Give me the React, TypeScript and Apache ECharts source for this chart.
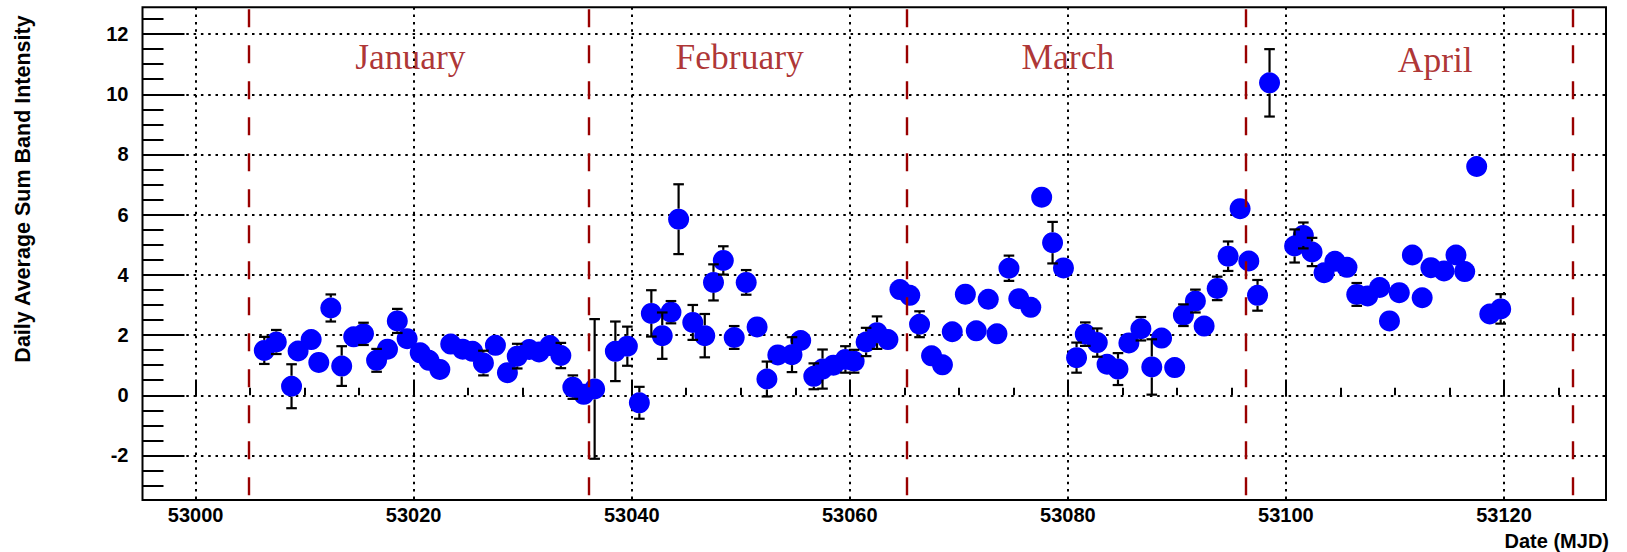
import React, { useEffect, useRef } from "react";
import * as echarts from "echarts";

// ---- data ----
const mjd = [
  53006.3, 53007.4, 53008.8, 53009.4, 53010.6, 53011.3, 53012.4, 53013.4, 53014.5, 53015.4,
  53016.6, 53017.6, 53018.5, 53019.4, 53020.6, 53021.4, 53022.4, 53023.4, 53024.5, 53025.4,
  53026.4, 53027.5, 53028.6, 53029.5, 53030.6, 53031.5, 53032.5, 53033.5, 53034.6, 53035.6,
  53036.6,
  53038.5, 53039.6, 53040.7, 53041.8, 53042.8, 53043.6, 53044.3, 53045.6, 53046.7, 53047.5,
  53048.4, 53049.4, 53050.5, 53051.5, 53052.4, 53053.4, 53054.7, 53055.5, 53056.7, 53057.5,
  53058.5, 53059.6, 53060.4, 53061.5, 53062.5, 53063.5, 53064.6,
  53065.5, 53066.4, 53067.5, 53068.5, 53069.4, 53070.6, 53071.6, 53072.7, 53073.5, 53074.6,
  53075.5, 53076.6, 53077.6, 53078.6, 53079.6, 53080.8, 53081.6, 53082.7, 53083.6, 53084.6,
  53085.6, 53086.7, 53087.7, 53088.6, 53089.8, 53090.6, 53091.7, 53092.5, 53093.7, 53094.7,
  53095.8,
  53096.6, 53097.4, 53098.5, 53100.8, 53101.6, 53102.4, 53103.5, 53104.5, 53105.6, 53106.5,
  53107.5, 53108.6, 53109.5, 53110.4, 53111.6, 53112.5, 53113.3, 53114.5, 53115.6, 53116.4,
  53117.5, 53118.7, 53119.7,
];

const intensity = [
  1.49, 1.77, 0.30, 1.47, 1.85, 1.09, 2.90, 0.97, 1.94, 2.04,
  1.16, 1.53, 2.47, 1.88, 1.41, 1.16, 0.86, 1.70, 1.53, 1.46,
  1.07, 1.66, 0.75, 1.30, 1.52, 1.44, 1.65, 1.32, 0.27, 0.03,
  0.21,
  1.46, 1.63, -0.25, 2.72, 1.98, 2.76, 5.85, 2.42, 1.98, 3.75,
  4.48, 1.92, 3.75, 2.27, 0.54, 1.34, 1.35, 1.82, 0.63, 0.87,
  1.00, 1.19, 1.13, 1.77, 2.08, 1.85, 3.51,
  3.32, 2.36, 1.31, 1.01, 2.11, 3.36, 2.14, 3.19, 2.04, 4.22,
  3.21, 2.92, 6.58, 5.07, 4.23, 1.25, 2.03, 1.75, 1.03, 0.87,
  1.74, 2.21, 0.94, 1.90, 0.92, 2.66, 3.13, 2.30, 3.55, 4.62,
  6.20,
  4.46, 3.32, 10.38, 4.96, 5.31, 4.76, 4.07, 4.45, 4.25, 3.35,
  3.30, 3.58, 2.47, 3.41, 4.66, 3.24, 4.24, 4.13, 4.66, 4.11,
  7.60, 2.70, 2.87,
];

const intensityError = [
  0.45, 0.40, 0.73, 0, 0, 0, 0.45, 0.66, 0, 0.37,
  0.38, 0, 0.40, 0, 0, 0, 0, 0, 0, 0,
  0.41, 0, 0, 0.41, 0, 0, 0, 0.42, 0.39, 0,
  2.32,
  0.99, 0.65, 0.53, 0.77, 0.77, 0.37, 1.16, 0.58, 0.72, 0.60,
  0.47, 0.38, 0.41, 0, 0.58, 0, 0.58, 0, 0.43, 0.65,
  0, 0.44, 0.38, 0.47, 0.54, 0, 0,
  0, 0.43, 0, 0, 0, 0, 0, 0, 0, 0.42,
  0, 0, 0, 0.69, 0, 0.50, 0.39, 0.47, 0, 0.53,
  0.34, 0.39, 0.92, 0, 0, 0.36, 0.38, 0, 0.39, 0.49,
  0,
  0, 0.51, 1.12, 0.55, 0.43, 0.47, 0, 0, 0, 0.38,
  0, 0, 0, 0, 0, 0, 0, 0, 0, 0,
  0, 0, 0.49,
];

const monthStarts = [53004.9, 53036.1, 53065.2, 53096.3, 53126.3];
const monthNames = ["January", "February", "March", "April"];
const monthLabelX = [53019.7, 53049.9, 53080.0, 53113.7];
const monthLabelY = [11.23, 11.23, 11.23, 11.13];

const xMajorTicks = [53000, 53020, 53040, 53060, 53080, 53100, 53120];
const xMinorTicks = [
  53005, 53010, 53015, 53025, 53030, 53035, 53045, 53050, 53055, 53065,
  53070, 53075, 53085, 53090, 53095, 53105, 53110, 53115, 53125,
];
const yMajorTicks = [-2, 0, 2, 4, 6, 8, 10, 12];
const yMinorTicks = [
  -3, -2.5, -1.5, -1, -0.5, 0.5, 1, 1.5, 2.5, 3, 3.5, 4.5, 5, 5.5,
  6.5, 7, 7.5, 8.5, 9, 9.5, 10.5, 11, 11.5, 12.5,
];

const X_MIN = 52995.13;
const X_MAX = 53129.36;
const Y_MIN = -3.48;
const Y_MAX = 12.89;

const SANS = "'Liberation Sans', Arial, Helvetica, sans-serif";
const SERIF = "'Liberation Serif', 'Times New Roman', serif";
const MONTH_COLOR = "#990000";
const MARKER_SIZE = 21;

export default function App() {
  const ref = useRef<HTMLDivElement | null>(null);

  useEffect(() => {
    if (!ref.current) return;
    const chart = echarts.init(ref.current, null, { renderer: "svg" });

    const points = mjd.map((x, i) => [x, intensity[i], intensityError[i]]);
    const labels = monthNames.map((n, i) => ({ name: n, value: [monthLabelX[i], monthLabelY[i]] }));

    const gridLine = { color: "#000", width: 2, type: [2.5, 4.8] as number[] };
    const tickLine = { color: "#000", width: 2 };

    const option: any = {
      animation: false,
      backgroundColor: "#ffffff",
      grid: {
        left: 142.5,
        top: 7.3,
        width: 1463.5,
        height: 492.7,
        show: true,
        borderColor: "#000",
        borderWidth: 2,
        backgroundColor: "transparent",
        containLabel: false,
      },
      xAxis: [
        {
          type: "value",
          min: X_MIN,
          max: X_MAX,
          position: "bottom",
          axisLine: { show: false },
          axisTick: { show: true, inside: true, length: 15, lineStyle: tickLine, customValues: xMajorTicks },
          axisLabel: {
            show: true,
            customValues: xMajorTicks,
            margin: 5,
            color: "#000",
            fontFamily: SANS,
            fontWeight: "bold",
            fontSize: 20,
            formatter: (v: number) => String(Math.round(v)),
          },
          splitLine: { show: true, customValues: xMajorTicks, lineStyle: gridLine },
        },
        {
          type: "value",
          min: X_MIN,
          max: X_MAX,
          position: "bottom",
          axisLine: { show: false },
          axisTick: { show: true, inside: true, length: 7.5, lineStyle: tickLine, customValues: xMinorTicks },
          axisLabel: { show: false },
          splitLine: { show: false },
        },
      ],
      yAxis: [
        {
          type: "value",
          min: Y_MIN,
          max: Y_MAX,
          position: "left",
          axisLine: { show: false },
          axisTick: { show: true, inside: true, length: 42, lineStyle: tickLine, customValues: yMajorTicks },
          axisLabel: {
            show: true,
            customValues: yMajorTicks,
            margin: 14,
            color: "#000",
            fontFamily: SANS,
            fontWeight: "bold",
            fontSize: 20,
            formatter: (v: number) => String(Math.round(v)),
          },
          splitLine: { show: true, customValues: yMajorTicks, lineStyle: gridLine },
        },
        {
          type: "value",
          min: Y_MIN,
          max: Y_MAX,
          position: "left",
          axisLine: { show: false },
          axisTick: { show: true, inside: true, length: 21, lineStyle: tickLine, customValues: yMinorTicks },
          axisLabel: { show: false },
          splitLine: { show: false },
        },
      ],
      graphic: [
        {
          type: "text",
          x: 22.7,
          y: 189,
          rotation: Math.PI / 2,
          style: {
            text: "Daily Average Sum Band Intensity",
            fontFamily: SANS,
            fontWeight: "bold",
            fontSize: 21.5,
            fill: "#000",
            align: "center",
            verticalAlign: "middle",
          },
        },
        {
          type: "text",
          x: 1609,
          y: 541,
          style: {
            text: "Date (MJD)",
            fontFamily: SANS,
            fontWeight: "bold",
            fontSize: 20,
            fill: "#000",
            align: "right",
            verticalAlign: "middle",
          },
        },
      ],
      series: [
        {
          type: "scatter",
          name: "months",
          xAxisIndex: 0,
          yAxisIndex: 0,
          silent: true,
          symbolSize: 0,
          data: labels,
          z: 1,
          label: {
            show: true,
            position: "inside",
            formatter: (p: any) => p.name,
            fontFamily: SERIF,
            fontSize: 35.5,
            color: MONTH_COLOR,
            align: "center",
            verticalAlign: "middle",
          },
          markLine: {
            silent: true,
            symbol: ["none", "none"],
            label: { show: false },
            lineStyle: { color: MONTH_COLOR, width: 2.4, type: [18, 18] },
            data: monthStarts.map((m) => [{ coord: [m, -3.32] }, { coord: [m, Y_MAX] }]),
          },
        },
        {
          type: "scatter",
          name: "intensity",
          xAxisIndex: 0,
          yAxisIndex: 0,
          silent: true,
          symbol: "circle",
          symbolSize: MARKER_SIZE,
          itemStyle: { color: "#0000ff", opacity: 1 },
          data: points.map((p) => [p[0], p[1]]),
          z: 2,
        },
        {
          type: "custom",
          name: "errors",
          xAxisIndex: 0,
          yAxisIndex: 0,
          silent: true,
          z: 3,
          data: points,
          encode: { x: 0, y: 1 },
          renderItem: (params: any, api: any) => {
            const x = api.value(0);
            const y = api.value(1);
            const e = api.value(2);
            const c = api.coord([x, y]);
            const top = api.coord([x, y + e]);
            const bot = api.coord([x, y - e]);
            const r = MARKER_SIZE / 2;
            const cap = 5.3;
            const style = { stroke: "#000", lineWidth: 2.2 };
            const children: any[] = [];
            if (c[1] - top[1] > r) {
              children.push({ type: "line", shape: { x1: c[0], y1: c[1] - r, x2: c[0], y2: top[1] }, style });
              children.push({ type: "line", shape: { x1: c[0] - cap, y1: top[1], x2: c[0] + cap, y2: top[1] }, style });
              children.push({ type: "line", shape: { x1: c[0], y1: c[1] + r, x2: c[0], y2: bot[1] }, style });
              children.push({ type: "line", shape: { x1: c[0] - cap, y1: bot[1], x2: c[0] + cap, y2: bot[1] }, style });
            }
            return { type: "group", children };
          },
        },
      ],
    };

    chart.setOption(option);
    return () => {
      chart.dispose();
    };
  }, []);

  return (
    <div
      ref={ref}
      style={{
        position: "fixed",
        left: 0,
        top: 0,
        width: "1627px",
        height: "552px",
        background: "#ffffff",
      }}
    />
  );
}
